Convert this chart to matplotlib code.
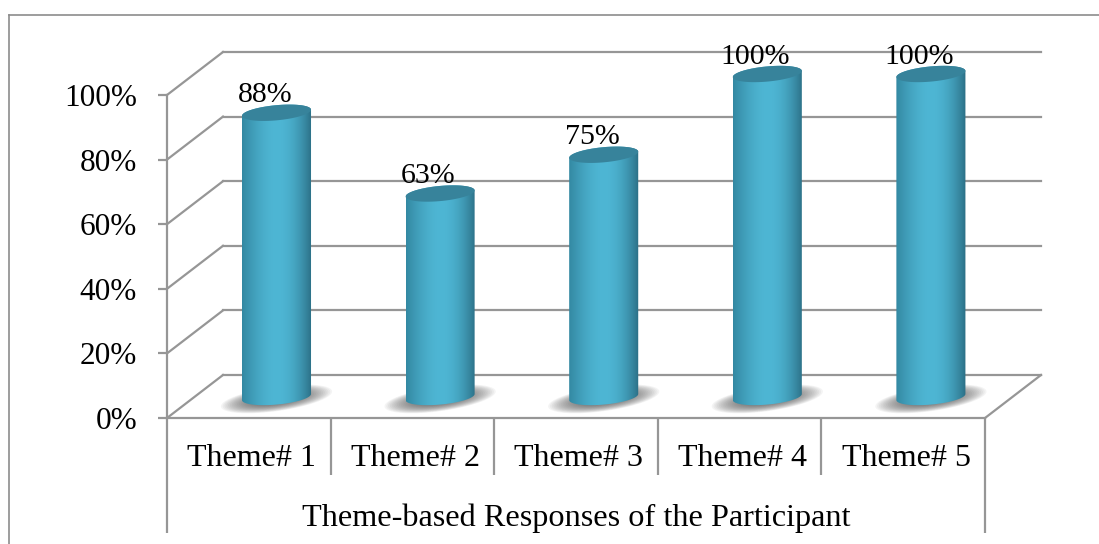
import matplotlib
matplotlib.use("Agg")
import matplotlib.pyplot as plt
from matplotlib.lines import Line2D
from matplotlib.patches import Polygon
from matplotlib.transforms import Affine2D
import numpy as np

THEMES = ["Theme# 1", "Theme# 2", "Theme# 3", "Theme# 4", "Theme# 5"]
VALUES = [88, 63, 75, 100, 100]
Y_TICKS = [0, 20, 40, 60, 80, 100]
AXIS_TITLE = "Theme-based Responses of the Participant"

GRID = "#969696"
LW = 1.6
CAP = "#37839b"
BAR_HALF = 0.211   # half bar width, in categories
CAP_B = 2.35       # cap half height, in percent
CAP_TILT = 0.95    # cap rise towards the right, in percent


def cap_outline(center, top, start, stop, n=60):
    t = np.linspace(start, stop, n)
    return (center + BAR_HALF * np.cos(t),
            top + CAP_B * np.sin(t) + CAP_TILT * np.cos(t))


def main():
    plt.rcParams["font.family"] = ["Liberation Serif", "DejaVu Serif"]
    fig = plt.figure(figsize=(10.99, 5.44), dpi=100)
    W, H = 1099, 544
    ax = fig.add_axes([167 / W, (H - 418) / H, (985 - 167) / W, 323 / H])
    ax.set_xlim(0, 5)
    ax.set_ylim(0, 100)
    ax.patch.set_alpha(0)
    for side in ["top", "right"]:
        ax.spines[side].set_visible(False)
    for side in ["left", "bottom"]:
        ax.spines[side].set_color(GRID)
        ax.spines[side].set_linewidth(LW)

    # back wall sits behind the front plane, bars halfway between
    wall = ax.transData + Affine2D().translate(56, 43)
    mid = ax.transData + Affine2D().translate(27.7, 21)

    for v in Y_TICKS:
        ax.plot([0, 5], [v, v], color=GRID, lw=LW, clip_on=False, zorder=1, transform=wall)
        # side wall edge from axis to back wall
        x0, y0 = ax.transData.transform((0, v))
        ax.add_line(Line2D([x0, x0 + 56], [y0, y0 + 43], color=GRID, lw=LW,
                           transform=None, clip_on=False, zorder=1))
    x0, y0 = ax.transData.transform((5, 0))
    ax.add_line(Line2D([x0, x0 + 56], [y0, y0 + 43], color=GRID, lw=LW,
                       transform=None, clip_on=False, zorder=1))

    # category brackets under the plot
    ax.vlines([1, 2, 3, 4], -17.5, 0, color=GRID, lw=LW, clip_on=False)
    ax.vlines([0, 5], -35.5, 0, color=GRID, lw=LW, clip_on=False)

    ax.set_yticks(Y_TICKS)
    ax.set_yticklabels([f"{v}%" for v in Y_TICKS], fontsize=22.5)
    ax.tick_params(axis="y", length=6.5, width=LW, color=GRID, pad=15)
    ax.set_xticks(np.arange(len(THEMES)) + 0.518)
    ax.set_xticklabels(THEMES, fontsize=23)
    ax.tick_params(axis="x", length=0, pad=19)
    ax.set_xlabel(AXIS_TITLE, fontsize=23.2, labelpad=22)

    # horizontal shading across the cylinder
    dark_l, dark_r = np.array([0x33, 0x88, 0xa2]), np.array([0x2b, 0x6e, 0x84])
    light = np.array([0x4e, 0xb6, 0xd4])
    xs = np.linspace(0, 1, 140)
    s = np.sin(np.pi * xs)[:, None] ** 0.9
    edge = dark_l + (dark_r - dark_l) * xs[:, None]
    grad = ((edge + (light - edge) * s) / 255.0)[None, :, :]

    for i, v in enumerate(VALUES):
        c = i + 0.5
        # soft floor shadow, skewed to the back right
        for k in np.linspace(1.0, 0.45, 18):
            t = np.linspace(0, 2 * np.pi, 80)
            px = c + 0.34 * k * np.cos(t)
            py = -0.6 + 3.8 * k * np.sin(t) + 2.3 * k * np.cos(t)
            ax.add_patch(Polygon(np.column_stack([px, py]), closed=True, fc="#4a4a4a",
                                 ec="none", alpha=0.06, transform=mid, clip_on=False, zorder=2))

        # cylinder body, gradient image clipped to the outline
        bx, by = cap_outline(c, 0, np.pi, 2 * np.pi)
        tx, ty = cap_outline(c, v, 0, np.pi)
        outline = Polygon(np.column_stack([np.r_[bx, tx], np.r_[by, ty]]), closed=True,
                          transform=mid)
        img = ax.imshow(grad, extent=(c - BAR_HALF, c + BAR_HALF, -10, 110), aspect="auto",
                        transform=mid, zorder=3, interpolation="bilinear")
        img.set_clip_box(fig.bbox)
        img.set_clip_path(outline)

        # top cap
        ex, ey = cap_outline(c, v, 0, 2 * np.pi)
        ax.add_patch(Polygon(np.column_stack([ex, ey]), closed=True, fc=CAP, ec="none",
                             transform=mid, clip_on=False, zorder=4))

        ax.annotate(f"{v}%", (c, v), xycoords=mid, xytext=(-8.5, 7.5), textcoords="offset points",
                    ha="center", va="baseline", fontsize=21.5, color="black", zorder=5,
                    annotation_clip=False)

    ax.set_xlim(0, 5)
    ax.set_ylim(0, 100)

    # outer frame of the chart
    for xs_, ys_ in [([9, 1099], [14.5, 14.5]), ([9, 9], [14.5, 544])]:
        fig.add_artist(Line2D(np.array(xs_) / W, 1 - np.array(ys_) / H, color="#8c8c8c", lw=1.2))

    fig.savefig("out.png", dpi=100)
    plt.close(fig)


if __name__ == "__main__":
    main()
